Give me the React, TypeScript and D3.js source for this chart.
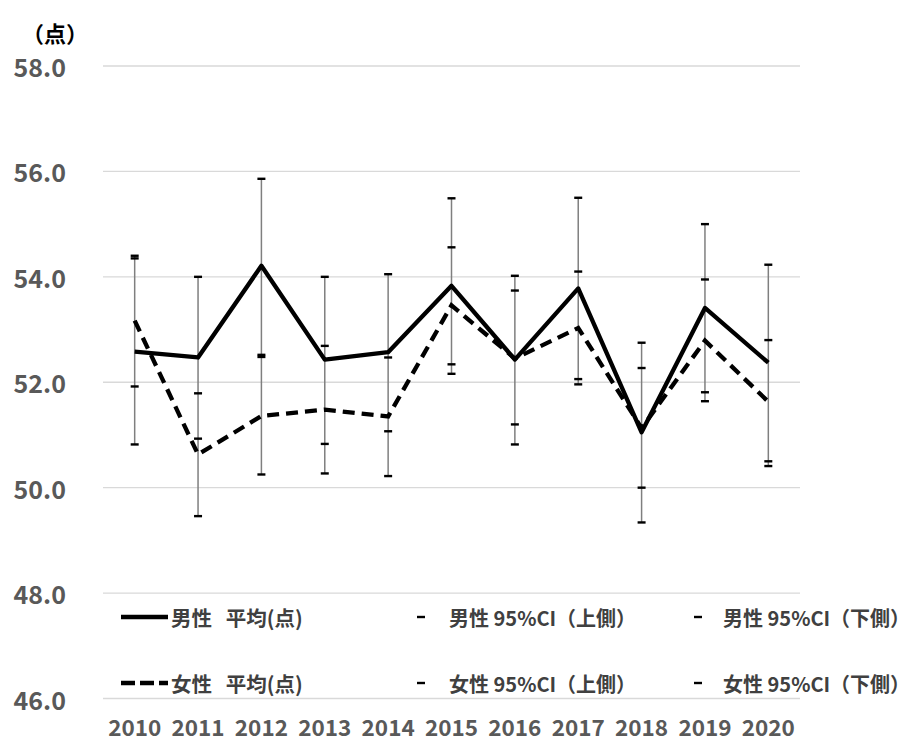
import React from "react";
import * as d3 from "d3";

// Survey years (x categories)
const years = ["2010", "2011", "2012", "2013", "2014", "2015", "2016", "2017", "2018", "2019", "2020"];

// Male: mean score and 95% confidence interval bounds
const maleMean = [52.58, 52.47, 54.21, 52.43, 52.57, 53.83, 52.43, 53.78, 51.05, 53.41, 52.37];
const maleUpper = [54.35, 54.0, 55.86, 54.0, 54.05, 55.49, 54.02, 55.5, 52.75, 55.0, 54.23];
const maleLower = [50.82, 50.93, 52.52, 50.83, 51.07, 52.16, 50.82, 52.06, 49.34, 51.81, 50.5];

// Female: mean score and 95% confidence interval bounds
const femaleMean = [53.17, 50.63, 51.36, 51.48, 51.35, 53.46, 52.45, 53.03, 51.13, 52.79, 51.63];
const femaleUpper = [54.4, 51.79, 52.48, 52.69, 52.47, 54.56, 53.74, 54.1, 52.27, 53.95, 52.8];
const femaleLower = [51.92, 49.46, 50.25, 50.27, 50.22, 52.34, 51.2, 51.96, 50.0, 51.64, 50.41];

// Y axis ticks
const yTicks = [46, 48, 50, 52, 54, 56, 58];

// Legend entries
const legendMeanLabels = ["男性 平均(点)", "女性 平均(点)"];
const legendUpperLabels = ["男性 95%CI（上側）", "女性 95%CI（上側）"];
const legendLowerLabels = ["男性 95%CI（下側）", "女性 95%CI（下側）"];

const W = 909;
const H = 744;
const FONT = "'Noto Sans CJK JP', 'Noto Sans', sans-serif";
const DASH = "12,7";

export default function App() {
  const x = d3.scaleBand<string>().domain(years).range([103, 800]).padding(0);
  const cx = (i: number) => (x(years[i]) as number) + x.bandwidth() / 2;
  const y = d3.scaleLinear().domain([46, 58]).range([698.5, 66]);

  const line = d3
    .line<number>()
    .x((_, i) => cx(i))
    .y((d) => y(d));

  const allSeries = [maleUpper, maleLower, femaleUpper, femaleLower, maleMean, femaleMean];
  const capSeries = [maleUpper, maleLower, femaleUpper, femaleLower];

  const legendRows = [617, 683];

  return (
    <svg
      width={W}
      height={H}
      style={{ position: "absolute", left: 0, top: 0, background: "#fff" }}
      fontFamily={FONT}
    >
      <rect width={W} height={H} fill="#fff" />

      {/* horizontal gridlines */}
      {yTicks.map((t) => (
        <line key={t} x1={103} x2={800} y1={y(t)} y2={y(t)} stroke="#d9d9d9" strokeWidth={1.3} />
      ))}

      {/* y tick labels */}
      {yTicks.map((t) => (
        <text
          key={t}
          x={66}
          y={y(t)}
          textAnchor="end"
          dominantBaseline="central"
          fontSize={25}
          fontWeight={700}
          fill="#595959"
        >
          {t.toFixed(1)}
        </text>
      ))}

      {/* unit label */}
      <text x={22} y={32} dominantBaseline="central" fontSize={22} fontWeight={700} fill="#000">
        （点）
      </text>

      {/* x labels */}
      {years.map((yr, i) => (
        <text
          key={yr}
          x={cx(i)}
          y={736}
          textAnchor="middle"
          fontSize={22.5}
          fontWeight={700}
          fill="#595959"
        >
          {yr}
        </text>
      ))}

      {/* high-low lines spanning every series at each year */}
      {years.map((yr, i) => {
        const vals = allSeries.map((s) => s[i]);
        return (
          <line
            key={"hl" + yr}
            x1={cx(i)}
            x2={cx(i)}
            y1={y(d3.max(vals) as number)}
            y2={y(d3.min(vals) as number)}
            stroke="#7f7f7f"
            strokeWidth={1.5}
          />
        );
      })}

      {/* confidence interval dash markers */}
      {capSeries.map((s, k) =>
        s.map((v, i) => (
          <line
            key={"cap" + k + "-" + i}
            x1={cx(i) - 4}
            x2={cx(i) + 4}
            y1={y(v)}
            y2={y(v)}
            stroke="#000"
            strokeWidth={2.4}
          />
        ))
      )}

      {/* mean lines */}
      <path d={line(femaleMean) as string} fill="none" stroke="#000" strokeWidth={4.3} strokeDasharray={DASH} />
      <path d={line(maleMean) as string} fill="none" stroke="#000" strokeWidth={4.3} strokeLinejoin="round" />

      {/* legend */}
      {legendRows.map((ly, r) => (
        <g key={"lg" + r}>
          <line
            x1={121}
            x2={168}
            y1={ly}
            y2={ly}
            stroke="#000"
            strokeWidth={4.3}
            strokeDasharray={r === 1 ? "14,5" : undefined}
          />
          <text
            x={171}
            y={ly}
            dominantBaseline="central"
            fontSize={20.5}
            fontWeight={700}
            fill="#404040"
            style={{ wordSpacing: "9px" }}
          >
            {legendMeanLabels[r]}
          </text>
          <line x1={417} x2={425} y1={ly} y2={ly} stroke="#000" strokeWidth={2.4} />
          <text x={449} y={ly} dominantBaseline="central" fontSize={20} fontWeight={700} fill="#404040">
            {legendUpperLabels[r]}
          </text>
          <line x1={694} x2={702} y1={ly} y2={ly} stroke="#000" strokeWidth={2.4} />
          <text x={723} y={ly} dominantBaseline="central" fontSize={20} fontWeight={700} fill="#404040">
            {legendLowerLabels[r]}
          </text>
        </g>
      ))}
    </svg>
  );
}
